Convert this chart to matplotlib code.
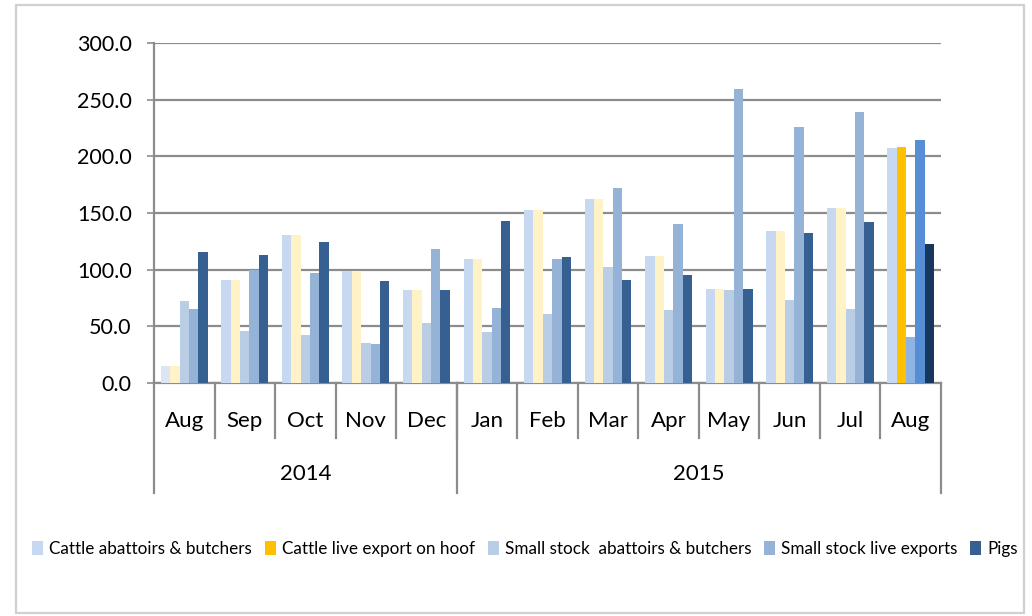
import numpy as np
import matplotlib
import matplotlib.pyplot as plt
from matplotlib.patches import Patch, Rectangle
import matplotlib.transforms as mtransforms

matplotlib.use('agg')

# data
months = ['Aug', 'Sep', 'Oct', 'Nov', 'Dec', 'Jan', 'Feb', 'Mar', 'Apr', 'May', 'Jun', 'Jul', 'Aug']
years = ['2014', '2015']
months_per_year = [5, 8]

cattle_abattoirs = [15, 91, 131, 99, 82, 109, 153, 162, 112, 83, 134, 154, 207]
cattle_live = [15, 91, 131, 99, 82, 109, 153, 162, 112, 83, 134, 154, 208]
small_abattoirs = [72, 46, 42, 35, 53, 45, 61, 102, 64, 82, 73, 65, 41]
small_live = [65, 100, 97, 34, 118, 66, 109, 172, 140, 259, 226, 239, 214]
pigs = [116, 113, 124, 90, 82, 143, 111, 91, 95, 83, 132, 142, 123]

series_names = ['Cattle abattoirs & butchers', 'Cattle live export on hoof',
                'Small stock  abattoirs & butchers', 'Small stock live exports', 'Pigs']
# normal colours, and the highlighted colours of the latest month
base_colors = ['#C6D9F1', '#FFF2C6', '#B9CDE5', '#95B3D7', '#366092']
last_colors = ['#C6D9F1', '#FFC000', '#8EB4E3', '#558ED5', '#17375E']
legend_colors = ['#C6D9F1', '#FFC000', '#B9CDE5', '#95B3D7', '#366092']

plt.rcParams['font.family'] = ['Lato', 'DejaVu Sans']

fig = plt.figure(figsize=(10.32, 6.16), dpi=100)
ax = fig.add_axes([154 / 1032, 1 - 383 / 616, 787 / 1032, 340 / 616])

# outer frame of the chart
fig.patches.append(Rectangle((16 / 1032, 3 / 616), 1008 / 1032, 608 / 616,
                             transform=fig.transFigure, fill=False,
                             edgecolor='#D0D0D0', linewidth=1.6))

all_series = [cattle_abattoirs, cattle_live, small_abattoirs, small_live, pigs]
n = len(months)
x = np.arange(n)
w = 0.155
for i, vals in enumerate(all_series):
    cols = [base_colors[i]] * (n - 1) + [last_colors[i]]
    if i == 0:
        cols[0] = '#DCE6F2'
    ax.bar(x + (i - 2) * w, vals, width=w, color=cols, linewidth=0, zorder=3)

ax.set_xlim(-0.5, n - 0.5)
ax.set_ylim(0, 300)
ax.set_yticks(np.arange(0, 301, 50))
ax.set_yticklabels(['%.1f' % v for v in np.arange(0, 301, 50)])
ax.grid(axis='y', color='#8C8C8C', linewidth=1.6, zorder=0)
ax.tick_params(axis='y', length=5, width=1.2, color='#8C8C8C', pad=11, labelsize=15.5)
ax.set_xticks([])
for s in ['top', 'right']:
    ax.spines[s].set_visible(False)
for s in ['left', 'bottom']:
    ax.spines[s].set_color('#8C8C8C')
    ax.spines[s].set_linewidth(1.6)

# two-level category axis
trans = mtransforms.blended_transform_factory(ax.transData, ax.transAxes)
month_depth = -55 / 340
year_depth = -110 / 340
for i, m in enumerate(months):
    ax.text(i, -38 / 340, m, transform=trans, ha='center', va='center', fontsize=16)
for b in range(1, n):
    ax.plot([b - 0.5, b - 0.5], [0, month_depth], transform=trans, color='#8C8C8C',
            linewidth=1.6, clip_on=False)
start = 0
bounds = [-0.5]
for yr, cnt in zip(years, months_per_year):
    ax.text(start + (cnt - 1) / 2, -91 / 340, yr, transform=trans, ha='center',
            va='center', fontsize=16)
    start += cnt
    bounds.append(start - 0.5)
for b in bounds:
    ax.plot([b, b], [0, year_depth], transform=trans, color='#8C8C8C',
            linewidth=1.6, clip_on=False)

handles = [Patch(facecolor=c, edgecolor='none') for c in legend_colors]
fig.legend(handles, series_names, loc='center', bbox_to_anchor=(525 / 1032, 1 - 549 / 616),
           ncol=5, frameon=False, fontsize=12.3, handlelength=0.65, handleheight=0.9,
           handletextpad=0.35, columnspacing=0.75)

fig.savefig('out.png', dpi=100)
